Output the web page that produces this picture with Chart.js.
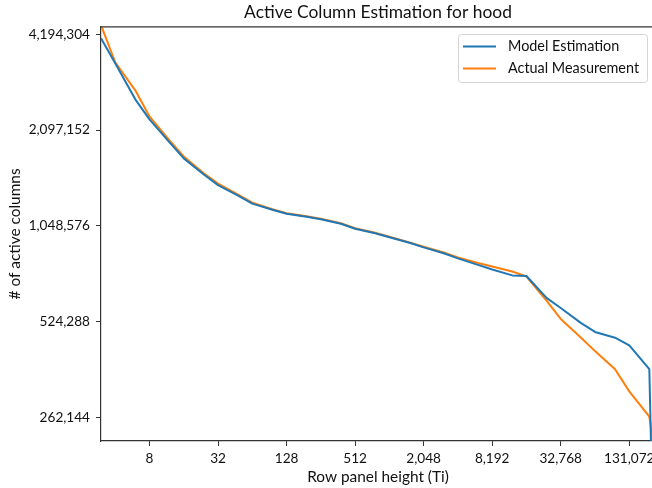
<!DOCTYPE html>
<html>
<head>
<meta charset="utf-8">
<title>Active Column Estimation for hood</title>
<script src="https://cdn.jsdelivr.net/npm/chart.js@4/dist/chart.umd.min.js"></script>
<style>
    html, body { margin: 0; padding: 0; background: #fff; overflow: hidden; }
    #wrap { width: 660px; height: 488px; position: relative; }
</style>
</head>
<body>
<div id="wrap"><canvas id="activeColumnsChart"></canvas></div>
<script>
// --- Data ---
const rowHeights = [3, 4, 6, 8, 12, 16, 24, 32, 48, 64, 96, 128, 192, 256, 384, 512, 768, 1024, 1536, 2048,
    3072, 4096, 6144, 8192, 12288, 16384, 24576, 32768, 49152, 65536, 98304, 131072, 196608, 220542];

const modelEstimation = [4083000, 3404000, 2621000, 2267000, 1918000, 1709000, 1520000, 1408000, 1304000, 1231000,
    1178000, 1144000, 1119000, 1099000, 1064000, 1026000, 993000, 965000, 927000, 897000,
    859000, 828000, 790000, 764000, 732000, 729000, 622000, 578000, 519000, 486000,
    466000, 441000, 371000, 60000];

const actualMeasurement = [4488000, 3429000, 2798000, 2316000, 1945000, 1732000, 1535000, 1423000, 1313000, 1240000,
    1182000, 1148000, 1124000, 1103000, 1068000, 1030000, 997000, 969000, 930000, 901000,
    864000, 834000, 801000, 781000, 753000, 726000, 610000, 534000, 467000, 423000,
    371000, 316000, 263000, 200000];

const xTickValues = [8, 32, 128, 512, 2048, 8192, 32768, 131072];
const yTickValues = [262144, 524288, 1048576, 2097152, 4194304];

(function() {
    'use strict';

    const FONT = 'Lato, "DejaVu Sans", sans-serif';
    const fmt = v => Number(v).toLocaleString('en-US');
    const toPoints = (xs, ys) => xs.map((x, i) => ({ x, y: ys[i] }));

    // matplotlib draws a top spine and an in-axes legend; do both by hand
    const frameAndLegend = {
        id: 'frameAndLegend',
        afterDraw(chart) {
            const { ctx, chartArea } = chart;
            ctx.save();
            ctx.strokeStyle = '#333';
            ctx.lineWidth = 1.2;
            ctx.beginPath();
            ctx.moveTo(chartArea.left, chartArea.top);
            ctx.lineTo(chartArea.right, chartArea.top);
            ctx.stroke();

            const box = { x: 458, y: 34, w: 189, h: 48 };
            ctx.fillStyle = 'rgba(255,255,255,0.8)';
            ctx.strokeStyle = '#d4d4d4';
            ctx.lineWidth = 1;
            ctx.beginPath();
            ctx.roundRect(box.x + 0.5, box.y + 0.5, box.w, box.h, 3);
            ctx.fill();
            ctx.stroke();

            ctx.font = '14.4px ' + FONT;
            ctx.textBaseline = 'middle';
            chart.data.datasets.forEach((ds, i) => {
                const y = box.y + 12.5 + i * 22;
                ctx.strokeStyle = ds.borderColor;
                ctx.lineWidth = 2;
                ctx.beginPath();
                ctx.moveTo(box.x + 5, y);
                ctx.lineTo(box.x + 38, y);
                ctx.stroke();
                ctx.fillStyle = '#111';
                ctx.fillText(ds.label, box.x + 50, y);
            });
            ctx.restore();
        }
    };

    const ctx = document.getElementById('activeColumnsChart').getContext('2d');
    new Chart(ctx, {
        type: 'line',
        data: {
            datasets: [
                { label: 'Model Estimation', data: toPoints(rowHeights, modelEstimation), borderColor: '#1f77b4', backgroundColor: '#1f77b4' },
                { label: 'Actual Measurement', data: toPoints(rowHeights, actualMeasurement), borderColor: '#ff7f0e', backgroundColor: '#ff7f0e' }
            ]
        },
        options: {
            responsive: true,
            maintainAspectRatio: false,
            animation: false,
            layout: { padding: { top: 0, right: 5, bottom: 0, left: 0 } },
            elements: {
                line: { borderWidth: 2, tension: 0, borderCapStyle: 'butt', borderJoinStyle: 'round' },
                point: { radius: 0 }
            },
            plugins: {
                legend: { display: false },
                tooltip: { enabled: false },
                title: {
                    display: true,
                    text: 'Active Column Estimation for hood',
                    fullSize: false,
                    color: '#111',
                    font: { family: FONT, size: 17.4, weight: 'normal', lineHeight: 1.2 },
                    padding: { top: 2, bottom: 4 }
                }
            },
            scales: {
                x: {
                    type: 'logarithmic',
                    min: 3,
                    max: 220542,
                    afterBuildTicks: axis => { axis.ticks = xTickValues.map(v => ({ value: v })); },
                    afterFit: axis => { axis.height = 47; },
                    ticks: { callback: v => fmt(v), color: '#111', font: { family: FONT, size: 13.6 }, padding: 4, maxRotation: 0, autoSkip: false },
                    grid: { drawOnChartArea: false, drawTicks: true, tickLength: 5, tickColor: '#333', tickWidth: 1 },
                    border: { color: '#333', width: 1.2 },
                    title: { display: true, text: 'Row panel height (Ti)', color: '#111', font: { family: FONT, size: 15.4 }, padding: { top: 0, bottom: 2 } }
                },
                y: {
                    type: 'logarithmic',
                    min: 220542,
                    max: 4430000,
                    afterBuildTicks: axis => { axis.ticks = yTickValues.map(v => ({ value: v })); },
                    afterFit: axis => { axis.width = 101; },
                    ticks: { callback: v => fmt(v), color: '#111', font: { family: FONT, size: 13.6 }, padding: 6, autoSkip: false },
                    grid: { drawOnChartArea: false, drawTicks: true, tickLength: 5, tickColor: '#333', tickWidth: 1 },
                    border: { color: '#333', width: 1.2 },
                    title: { display: true, text: '# of active columns', color: '#111', font: { family: FONT, size: 15.4 }, padding: { top: 6, bottom: 0 } }
                }
            }
        },
        plugins: [frameAndLegend]
    });
})();
</script>
</body>
</html>
